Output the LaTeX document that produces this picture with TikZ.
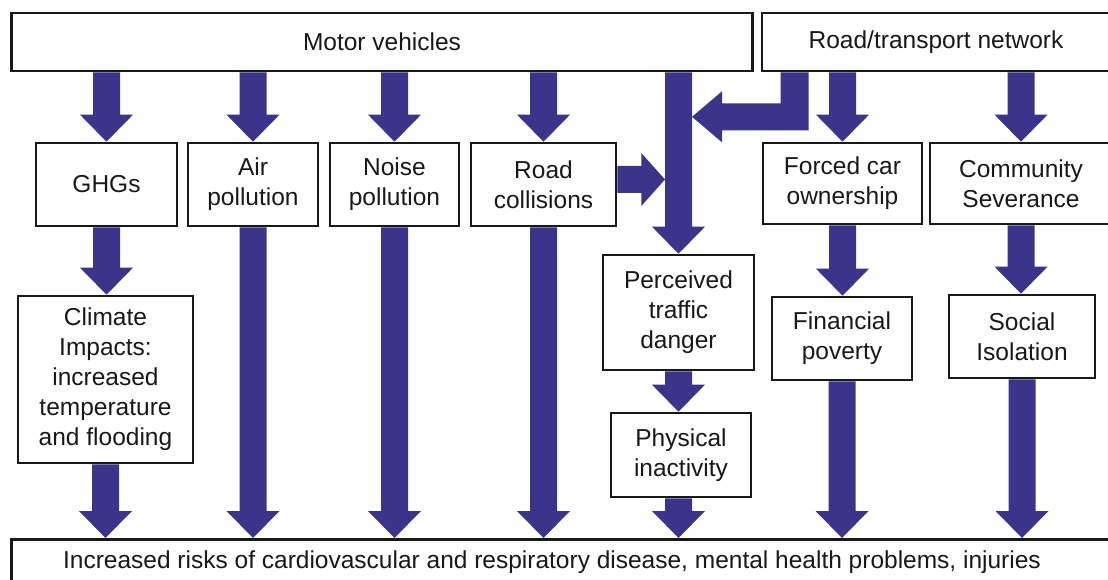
\documentclass[tikz,border=0pt]{standalone}
\usepackage{fontspec}
\setmainfont{Liberation Sans}
\usetikzlibrary{calc}
\pgfdeclarelayer{background}
\pgfsetlayers{background,main}
\definecolor{arrowblue}{RGB}{60,52,138}
\definecolor{ink}{RGB}{25,25,25}

% Broad downward block arrow: shaft from #1 down to the tip at #2 (same x as #1)
\newcommand{\blockdown}[2]{%
  \fill[fatarrow] let \p1=#1, \p2=#2 in
    (\x1-13.5pt,\y1) -- (\x1-13.5pt,\y2+27pt) -- (\x1-26.5pt,\y2+27pt) -- (\x1,\y2)
    -- (\x1+26.5pt,\y2+27pt) -- (\x1+13.5pt,\y2+27pt) -- (\x1+13.5pt,\y1) -- cycle;}

\begin{document}
\begin{tikzpicture}[x=1pt,y=-1pt,
  box/.style={draw=ink, line width=2.6pt, fill=white, inner sep=0pt, align=center,
    text=ink, font=\fontsize{24.5}{30}\selectfont},
  label text/.style={inner sep=0pt, text=ink, font=\fontsize{24.5}{30}\selectfont},
  fatarrow/.style={fill=arrowblue}]
\useasboundingbox (0,0) rectangle (1108,580);

% top sources
\node[box, minimum width=741pt, minimum height=58pt] (mv) at (382,42) {Motor vehicles};
\node[box, minimum width=348pt, minimum height=58pt] (road) at (936,42) {Road/transport network};

% first row of effects
\node[box, minimum width=141pt, minimum height=83pt] (ghg) at (106.5,184.5) {GHGs};
\node[box, minimum width=130pt, minimum height=83pt] (air) at (253,184.5) {Air\\pollution};
\node[box, minimum width=129pt, minimum height=83pt] (noise) at (394.5,184.5) {Noise\\pollution};
\node[box, minimum width=145pt, minimum height=83pt] (rc) at (543.5,184.5) {Road\\collisions};
\node[box, minimum width=159pt, minimum height=81pt] (fco) at (842.5,183.5) {Forced car\\ownership};
\node[box, minimum width=182pt, minimum height=81pt] (cs) at (1021,183.5) {Community\\Severance};

% second row
\node[box, minimum width=175pt, minimum height=167pt] (clim) at (105.5,379.5)
  {Climate\\Impacts:\\increased\\temperature\\and flooding};
\node[box, minimum width=151pt, minimum height=115pt] (perc) at (678.5,312.5)
  {Perceived\\traffic\\danger};
\node[box, minimum width=140pt, minimum height=84pt] (phys) at (681,455)
  {Physical\\inactivity};
\node[box, minimum width=140pt, minimum height=83pt] (fin) at (842,338.5)
  {Financial\\poverty};
\node[box, minimum width=146pt, minimum height=83pt] (soc) at (1022,336.5)
  {Social\\Isolation};

% common outcome
\node[box, anchor=north west, minimum width=1110pt, minimum height=70pt] (risks) at (10,538) {};
\node[label text] (riskstext) at (552,562)
  {Increased risks of cardiovascular and respiratory disease, mental health problems, injuries};

\coordinate (elbowin) at ($(road.south west)+(34,0)$);

\begin{pgfonlayer}{background}
  % motor vehicles
  \blockdown{(ghg.north |- mv.south)}{(ghg.north)}
  \blockdown{(air.north |- mv.south)}{(air.north)}
  \blockdown{(noise.north |- mv.south)}{(noise.north)}
  \blockdown{(rc.north |- mv.south)}{(rc.north)}
  \blockdown{(perc.north |- mv.south)}{(perc.north)}
  % road / transport network
  \blockdown{(fco.north |- road.south)}{(fco.north)}
  \blockdown{(cs.north |- road.south)}{(cs.north)}
  \fill[fatarrow] let \p1=(elbowin), \p2=(perc.north |- mv.south) in
    (\x1-14pt,\y1) -- (\x1+14pt,\y1) -- (\x1+14pt,\y1-58pt) -- (\x2+43.5pt,\y1-58pt)
    -- (\x2+43.5pt,\y1-70pt) -- (\x2+13.5pt,\y1-44.5pt) -- (\x2+43.5pt,\y1-19pt)
    -- (\x2+43.5pt,\y1-31pt) -- (\x1-14pt,\y1-31pt) -- cycle;
  % road collisions feed perceived danger
  \fill[fatarrow] let \p1=(rc.east), \p2=(perc.north) in
    (\x1,\y1+18.5pt) -- (\x1+24pt,\y1+18.5pt) -- (\x1+24pt,\y1+31.5pt) -- (\x2-13.5pt,\y1+5pt)
    -- (\x1+24pt,\y1-21.5pt) -- (\x1+24pt,\y1-8.5pt) -- (\x1,\y1-8.5pt) -- cycle;
  % second level
  \blockdown{(ghg.south)}{(ghg.south |- clim.north)}
  \blockdown{(perc.south)}{(perc.south |- phys.north)}
  \blockdown{(fco.south)}{(fco.south |- fin.north)}
  \blockdown{(cs.south)}{(cs.south |- soc.north)}
  % into the common outcome
  \blockdown{(clim.south)}{(clim.south |- risks.north)}
  \blockdown{(air.south)}{(air.south |- risks.north)}
  \blockdown{(noise.south)}{(noise.south |- risks.north)}
  \blockdown{(rc.south)}{(rc.south |- risks.north)}
  \blockdown{(perc.south |- phys.south)}{(perc.south |- risks.north)}
  \blockdown{(fin.south)}{(fin.south |- risks.north)}
  \blockdown{(soc.south)}{(soc.south |- risks.north)}
\end{pgfonlayer}
\end{tikzpicture}
\end{document}
